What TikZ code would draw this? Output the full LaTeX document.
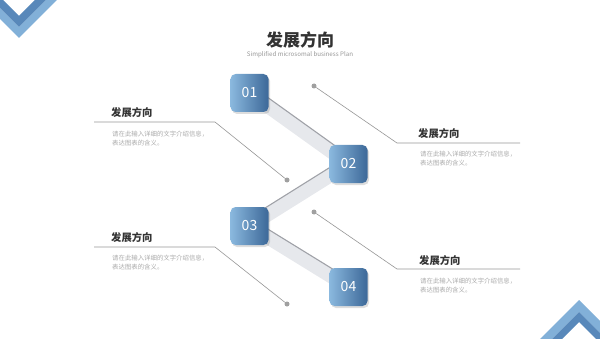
\documentclass[tikz,border=0pt]{standalone}
\usepackage{fontspec}
\setmainfont{Noto Sans CJK SC}
\usetikzlibrary{positioning,shadows,backgrounds,calc}
\definecolor{tkBoxL}{RGB}{138,184,222}
\definecolor{tkBoxR}{RGB}{60,104,152}
\definecolor{tkChevL}{RGB}{130,176,216}
\definecolor{tkChevD}{RGB}{88,136,186}
\definecolor{tkText}{RGB}{51,51,51}
\definecolor{tkGrey}{RGB}{150,150,150}
\definecolor{tkDesc}{RGB}{170,170,170}
\definecolor{tkBar}{RGB}{230,232,236}
\definecolor{tkBarEdge}{RGB}{160,162,168}

\begin{document}
\begin{tikzpicture}[
  x=1pt, y=1pt,
  num/.style={rounded corners=5pt, minimum width=38pt, minimum height=38pt,
    inner sep=0pt, left color=tkBoxL, right color=tkBoxR, text=white,
    font=\fontsize{14}{14}\selectfont,
    drop shadow={shadow xshift=1.5pt, shadow yshift=-2pt, opacity=0.22, fill=black!60}},
  bar/.style={line width=14pt, draw=tkBar},
  baredge/.style={line width=1.1pt, draw=tkBarEdge},
  lead/.style={draw=tkGrey, line width=0.6pt},
  dot/.style={circle, fill=tkGrey!90, inner sep=0pt, minimum size=5pt},
  head/.style={font=\fontsize{10.3}{12}\selectfont\bfseries, text=tkText,
    inner sep=0pt, anchor=west},
  desc/.style={font=\fontsize{6.4}{9}\selectfont, text=tkDesc, align=left,
    inner sep=0pt, anchor=west}
]
  \useasboundingbox (0,0) rectangle (600,338);
  \clip (0,0) rectangle (600,338);
  % corner chevrons
  \fill[tkChevL] (-31,350) -- (19,300) -- (69,350) -- (69,361) -- (19,311) -- (-31,361) -- cycle;
  \fill[tkChevD] (-31,361) -- (19,311) -- (69,361) -- (69,372) -- (19,322) -- (-31,372) -- cycle;
  \fill[tkChevL] (529,-12) -- (579,38) -- (629,-12) -- (629,-24) -- (579,26) -- (529,-24) -- cycle;
  \fill[tkChevD] (529,-24) -- (579,26) -- (629,-24) -- (629,-34) -- (579,16) -- (529,-34) -- cycle;
  % title
  \node[font=\fontsize{17}{20}\selectfont\bfseries, text=tkText] (title) at (300,298) {发展方向};
  \node[font=\fontsize{6.2}{7}\selectfont, text=tkGrey] (sub) at (300,283) {Simplified microsomal business Plan};
  % steps
  \node[num] (n1) at (249.5,245) {01};
  \node[num] (n2) at (348.5,174) {02};
  \node[num] (n3) at (249.5,112) {03};
  \node[num] (n4) at (348.5,51) {04};
  \begin{pgfonlayer}{background}
    \draw[bar] (n1.center) -- (n2.center);
    \draw[bar] (n2.center) -- (n3.center);
    \draw[bar] (n3.center) -- (n4.center);
    \draw[baredge] ($(n1.center)!7pt!90:(n2.center)$) -- ($(n2.center)!7pt!-90:(n1.center)$);
    \draw[baredge] ($(n2.center)!7pt!-90:(n3.center)$) -- ($(n3.center)!7pt!90:(n2.center)$);
    \draw[baredge] ($(n3.center)!7pt!90:(n4.center)$) -- ($(n4.center)!7pt!-90:(n3.center)$);
  \end{pgfonlayer}
  % leaders
  \node[dot] (d1) at (287,158) {};
  \node[dot] (d2) at (314,252) {};
  \node[dot] (d3) at (287,34) {};
  \node[dot] (d4) at (314,126) {};
  \coordinate (k1) at (215,216);
  \coordinate (e1) at (94,216);
  \coordinate (k2) at (397,195);
  \coordinate (e2) at (520,195);
  \coordinate (k3) at (215,91);
  \coordinate (e3) at (94,91);
  \coordinate (k4) at (397,69);
  \coordinate (e4) at (520,69);
  \draw[lead] (d1) -- (k1) -- (e1);
  \draw[lead] (d2) -- (k2) -- (e2);
  \draw[lead] (d3) -- (k3) -- (e3);
  \draw[lead] (d4) -- (k4) -- (e4);
  % texts
  \node[head] (h1) at (111,225) {发展方向};
  \node[desc] (t1) at (112,199.5) {请在此输入详细的文字介绍信息，\\表达图表的含义。};
  \node[head] (h2) at (418,204) {发展方向};
  \node[desc] (t2) at (420,179.5) {请在此输入详细的文字介绍信息，\\表达图表的含义。};
  \node[head] (h3) at (111,100) {发展方向};
  \node[desc] (t3) at (112,75.5) {请在此输入详细的文字介绍信息，\\表达图表的含义。};
  \node[head] (h4) at (419,77) {发展方向};
  \node[desc] (t4) at (420,52) {请在此输入详细的文字介绍信息，\\表达图表的含义。};
\end{tikzpicture}
\end{document}
